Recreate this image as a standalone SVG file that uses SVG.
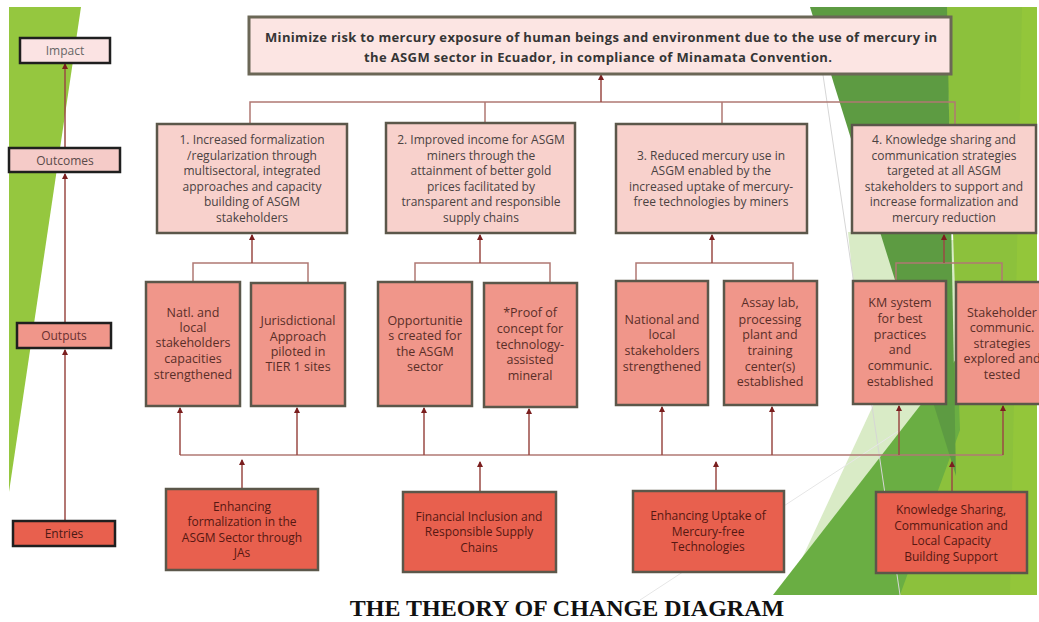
<svg xmlns="http://www.w3.org/2000/svg" width="1039" height="622" viewBox="0 0 1039 622">
<defs>
<marker id="ah" markerWidth="6" markerHeight="6" refX="5" refY="3" orient="auto" markerUnits="userSpaceOnUse">
<path d="M0,0 L6,3 L0,6 z" fill="#7a1e1e"/>
</marker>
<style>
text{font-family:"Open Sans","DejaVu Sans",sans-serif;text-anchor:middle}
.oc rect{fill:#f8d1cc;stroke:#5b574a;stroke-width:2.5}
.oc text{font-size:12px;fill:#4a4242}
.op rect{fill:#f0968a;stroke:#5b574a;stroke-width:2.5}
.op text{font-size:12.5px;fill:#5a2e28}
.en rect{fill:#e8604e;stroke:#5b574a;stroke-width:2.5}
.en text{font-size:12px;fill:#561812}
.lb rect{stroke:#1f1f1f;stroke-width:2.5}
.lb text{font-size:12px}
.cn path{fill:none;stroke:#b07873;stroke-width:1.5}
.cn .a{marker-end:url(#ah);stroke:#9a4a45}
.tp{font-size:13px;font-weight:700;fill:#353535}
</style>
</defs>
<rect x="0" y="0" width="1039" height="622" fill="#ffffff"/>
<g id="background">
<polygon points="9,7 81,7 9,492" fill="#95c73f"/>
<polygon points="785,595 950,240 1010,240 905,595" fill="#d9ebc6"/>
<polygon points="848,232 895,232 905,300 855,300" fill="#d9ebc6"/>
<polygon points="773,595 1037,255 1037,595" fill="#6aae43"/>
<polygon points="945,7 1037,7 1037,595 900,595 960,430" fill="#8cc13c"/>
<polygon points="1022,7 1037,7 1037,595 1010,595" fill="#93c63a"/>
<polygon points="810,7 947,7 956,476" fill="#5d9b42"/>
<line x1="823" y1="75" x2="900" y2="595" stroke="#d6d6d6" stroke-width="1"/>
<line x1="640" y1="600" x2="900" y2="430" stroke="#e6e6e6" stroke-width="1"/>
</g>
<g id="connectors" class="cn">
<path class="a" d="M65,521 V350"/>
<path class="a" d="M65,323 V174"/>
<path class="a" d="M65,148 V64"/>
<path d="M250,124 V102 H955 V124 M485,102 V124 M722,102 V124"/>
<path class="a" d="M601,102 V75"/>
<path d="M193,282 V263 H308 V282"/>
<path class="a" d="M252,263 V235"/>
<path d="M415,282 V263 H550 V282"/>
<path class="a" d="M480,263 V235"/>
<path d="M636,282 V263 H793 V282"/>
<path class="a" d="M712,263 V235"/>
<path d="M896,282 V263 H1002 V282"/>
<path class="a" d="M944,263 V235"/>
<path d="M180,455 H1003"/>
<path class="a" d="M180,455 V408"/>
<path class="a" d="M297,455 V408"/>
<path class="a" d="M424,455 V408"/>
<path class="a" d="M529,455 V409"/>
<path class="a" d="M662,455 V407"/>
<path class="a" d="M772,455 V407"/>
<path class="a" d="M899,455 V406"/>
<path class="a" d="M1003,455 V406"/>
<path class="a" d="M242,489 V460"/>
<path class="a" d="M480,492 V462"/>
<path class="a" d="M716,491 V462"/>
<path class="a" d="M952,492 V462"/>
</g>
<g id="label-impact" class="lb"><rect x="20" y="38" width="90" height="25" fill="#fbe3e3"/><text x="65" y="55" fill="#666">Impact</text></g>
<g id="label-outcomes" class="lb"><rect x="9" y="148" width="111" height="24" fill="#f5cbc8"/><text x="65" y="164.5" fill="#5a4a4a">Outcomes</text></g>
<g id="label-outputs" class="lb"><rect x="17" y="323" width="94" height="25" fill="#f0968a"/><text x="64" y="340" fill="#6a3030">Outputs</text></g>
<g id="label-entries" class="lb"><rect x="13" y="521" width="102" height="25" fill="#e8604e"/><text x="64" y="538" fill="#4a1a15">Entries</text></g>
<g id="impact">
<rect x="249" y="17" width="702" height="57" fill="#fce5e3" stroke="#6b6756" stroke-width="3"/>
<text x="601" y="41.5" class="tp" textLength="672" lengthAdjust="spacing">Minimize risk to mercury exposure of human beings and environment due to the use of mercury in</text>
<text x="598" y="61.5" class="tp" textLength="468" lengthAdjust="spacing">the ASGM sector in Ecuador, in compliance of Minamata Convention.</text>
</g>
<g id="outcome1" class="oc"><rect x="157" y="124" width="190" height="109"/>
<text x="252" y="144">1. Increased formalization</text><text x="252" y="159.5">/regularization through</text><text x="252" y="175">multisectoral,  integrated</text><text x="252" y="190.5">approaches and capacity</text><text x="252" y="206">building of ASGM</text><text x="252" y="222">stakeholders</text></g>
<g id="outcome2" class="oc"><rect x="386" y="123" width="189" height="110"/>
<text x="481" y="144">2. Improved income for ASGM</text><text x="481" y="159.5">miners through the</text><text x="481" y="175">attainment  of better gold</text><text x="481" y="190.5">prices facilitated by</text><text x="481" y="206">transparent  and responsible</text><text x="481" y="222">supply chains</text></g>
<g id="outcome3" class="oc"><rect x="616" y="124" width="191" height="109"/>
<text x="711" y="159.5">3. Reduced mercury use in</text><text x="711" y="175">ASGM enabled by the</text><text x="711" y="190.5">increased uptake of mercury-</text><text x="711" y="206">free technologies by miners</text></g>
<g id="outcome4" class="oc"><rect x="852" y="125" width="184" height="108"/>
<text x="944" y="144">4. Knowledge sharing and</text><text x="944" y="159.5">communication strategies</text><text x="944" y="175">targeted at all ASGM</text><text x="944" y="190.5">stakeholders to support and</text><text x="944" y="206">increase formalization and</text><text x="944" y="222">mercury reduction</text></g>
<g id="output1" class="op"><rect x="146" y="282" width="94" height="124"/>
<text x="193" y="317">Natl. and</text><text x="193" y="332">local</text><text x="193" y="347">stakeholders</text><text x="193" y="363">capacities</text><text x="193" y="379">strengthened</text></g>
<g id="output2" class="op"><rect x="251" y="283" width="94" height="123"/>
<text x="298" y="325">Jurisdictional</text><text x="298" y="341">Approach</text><text x="298" y="356">piloted in</text><text x="298" y="371">TIER 1 sites</text></g>
<g id="output3" class="op"><rect x="378" y="282" width="94" height="124"/>
<text x="425" y="325">Opportunitie</text><text x="425" y="340">s created for</text><text x="425" y="356">the ASGM</text><text x="425" y="371">sector</text></g>
<g id="output4" class="op"><rect x="484" y="283" width="93" height="124"/>
<text x="530" y="317">*Proof of</text><text x="530" y="333">concept for</text><text x="530" y="349">technology-</text><text x="530" y="364">assisted</text><text x="530" y="380">mineral</text></g>
<g id="output5" class="op"><rect x="616" y="281" width="92" height="124"/>
<text x="662" y="324">National and</text><text x="662" y="339">local</text><text x="662" y="355">stakeholders</text><text x="662" y="371">strengthened</text></g>
<g id="output6" class="op"><rect x="724" y="281" width="93" height="124"/>
<text x="770" y="307">Assay lab,</text><text x="770" y="324">processing</text><text x="770" y="339">plant  and</text><text x="770" y="355">training</text><text x="770" y="371">center(s)</text><text x="770" y="386">established</text></g>
<g id="output7" class="op"><rect x="853" y="281" width="93" height="123"/>
<text x="900" y="307">KM system</text><text x="900" y="323">for best</text><text x="900" y="339">practices</text><text x="900" y="354">and</text><text x="900" y="370">communic.</text><text x="900" y="386">established</text></g>
<g id="output8" class="op"><rect x="956" y="282" width="94" height="122"/>
<text x="1002" y="317">Stakeholder</text><text x="1002" y="332">communic.</text><text x="1002" y="348">strategies</text><text x="1002" y="363">explored and</text><text x="1002" y="379">tested</text></g>
<g id="entry1" class="en"><rect x="166" y="489" width="152" height="81"/>
<text x="242" y="511">Enhancing</text><text x="242" y="526">formalization in the</text><text x="242" y="542">ASGM Sector through</text><text x="242" y="557">JAs</text></g>
<g id="entry2" class="en"><rect x="403" y="492" width="153" height="80"/>
<text x="479" y="521">Financial  Inclusion and</text><text x="479" y="536">Responsible Supply</text><text x="479" y="552">Chains</text></g>
<g id="entry3" class="en"><rect x="633" y="491" width="151" height="81"/>
<text x="708" y="520">Enhancing Uptake of</text><text x="708" y="536">Mercury-free</text><text x="708" y="551">Technologies</text></g>
<g id="entry4" class="en"><rect x="876" y="492" width="151" height="81"/>
<text x="951" y="514">Knowledge Sharing,</text><text x="951" y="530">Communication and</text><text x="951" y="545">Local Capacity</text><text x="951" y="561">Building Support</text></g>
<text x="567" y="616" style="font-family:'Liberation Serif','Times New Roman',serif;font-size:24px;font-weight:bold;fill:#111">THE THEORY OF CHANGE DIAGRAM</text>
</svg>
